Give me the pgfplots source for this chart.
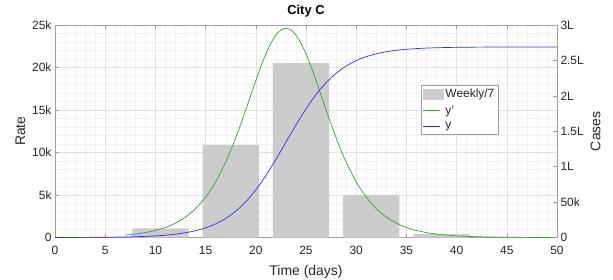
\documentclass[border=0pt]{standalone}
\usepackage{fontspec}
\setmainfont{Liberation Sans}
\usepackage{pgfplots}
\pgfplotsset{compat=1.18}
\definecolor{gline}{RGB}{70,150,70}
\definecolor{bline}{RGB}{50,50,225}
\definecolor{barc}{RGB}{204,204,204}
\definecolor{axc}{RGB}{160,160,160}
\definecolor{txt}{RGB}{38,38,38}
\begin{document}
\begin{tikzpicture}
\useasboundingbox (0,0) rectangle (613bp,280bp);
\pgfplotsset{
  common/.style={
    at={(55bp,42.5bp)}, anchor=south west,
    width=502bp, height=212.5bp, scale only axis,
    xmin=0, xmax=50,
    axis line style={axc},
    tick style={axc, line width=0.5pt},
    major tick length=4bp, minor tick length=0pt,
    tick align=inside,
    ticklabel style={font=\fontsize{12}{14}\selectfont, text=txt},
    label style={font=\fontsize{14}{16}\selectfont, text=txt},
    /pgf/number format/assume math mode=true,
    scaled y ticks=false,
  }
}
\begin{axis}[common,
  ymin=0, ymax=25000,
  xtick={0,5,...,50},
  ytick={0,5000,...,25000},
  yticklabels={0,5k,10k,15k,20k,25k},
  minor x tick num=4, minor y tick num=4,
  grid=both,
  major grid style={black!12, line width=0.4pt},
  minor grid style={black!5, line width=0.3pt},
  xtick pos=both, ytick pos=left,
  xticklabel style={yshift=-5bp},
  xlabel={Time (days)}, ylabel={Rate},
  xlabel style={yshift=-4bp},
  title={\textbf{City C}},
  title style={font=\fontsize{13}{15}\selectfont, text=black, yshift=-2bp},
]
\addplot[ybar, bar width=5.6, fill=barc, draw=none] coordinates {
  (10.5,1060) (17.5,10900) (24.5,20500) (31.5,5000) (38.5,420)
};
\addplot[gline, line width=0.7pt, smooth] coordinates {
  (7,280) (8,403) (9,579) (10,830) (11,1188) (12,1695) (13,2407) (14,3396)
  (15,4745) (16,6545) (17,8868) (17.5,10240) (18,11730) (18.5,13330) (19,15020)
  (19.5,16750) (20,18460) (20.5,20100) (21,21590) (21.5,22850) (22,23810)
  (22.5,24410) (23,24610) (23.5,24410) (24,23810) (24.5,22850) (25,21590)
  (25.5,20100) (26,18460) (26.5,16750) (27,15020) (27.5,13330) (28,11730)
  (28.5,10240) (29,8868) (30,6545) (31,4745) (32,3396) (33,2407) (34,1695)
  (35,1188) (36,830) (37,579) (38,403) (39,280) (40,195) (41,135) (42,94)
  (43,65) (44,45) (45,31) (46,22) (47,15) (48,10) (49,7) (50,5)
};
\end{axis}
\begin{axis}[common,
  axis y line*=right, axis x line=none,
  ymin=0, ymax=300000,
  ytick={0,50000,...,300000},
  yticklabels={0,50k,1L,1.5L,2L,2.5L,3L},
  ylabel={Cases},
  legend style={at={(0.7285,0.7176)}, anchor=north west, draw=axc,
    font=\fontsize{12}{14}\selectfont, text=txt, inner sep=2bp,
    row sep=2.5bp},
  legend cell align=left,
]
\addlegendimage{legend image code/.code={\fill[barc] (0bp,-5bp) rectangle (20bp,5bp);}}
\addlegendentry{Weekly/7}
\addlegendimage{gline, line width=0.7pt}
\addlegendentry{y'}
\addplot[bline, line width=0.7pt, smooth] coordinates {
  (0,59) (1,86) (2,123) (3,178) (4,256) (5,370) (6,533) (7,768) (8,1105)
  (9,1591) (10,2288) (11,3287) (12,4715) (13,6746) (14,9622) (15,13660)
  (16,19260) (17,26920) (18,37180) (19,50530) (20,67280) (21,87350)
  (22,110160) (23,134500) (24,158840) (25,181650) (26,201720) (27,218470)
  (28,231820) (29,242080) (30,249740) (31,255340) (32,259380) (33,262250)
  (34,264290) (35,265710) (36,266710) (37,267410) (38,267900) (39,268230)
  (40,268470) (41,268630) (42,268740) (43,268820) (44,268880) (45,268910)
  (46,268940) (47,268960) (48,268970) (49,268980) (50,268990)
};
\addlegendentry{y}
\end{axis}
\end{tikzpicture}
\end{document}
